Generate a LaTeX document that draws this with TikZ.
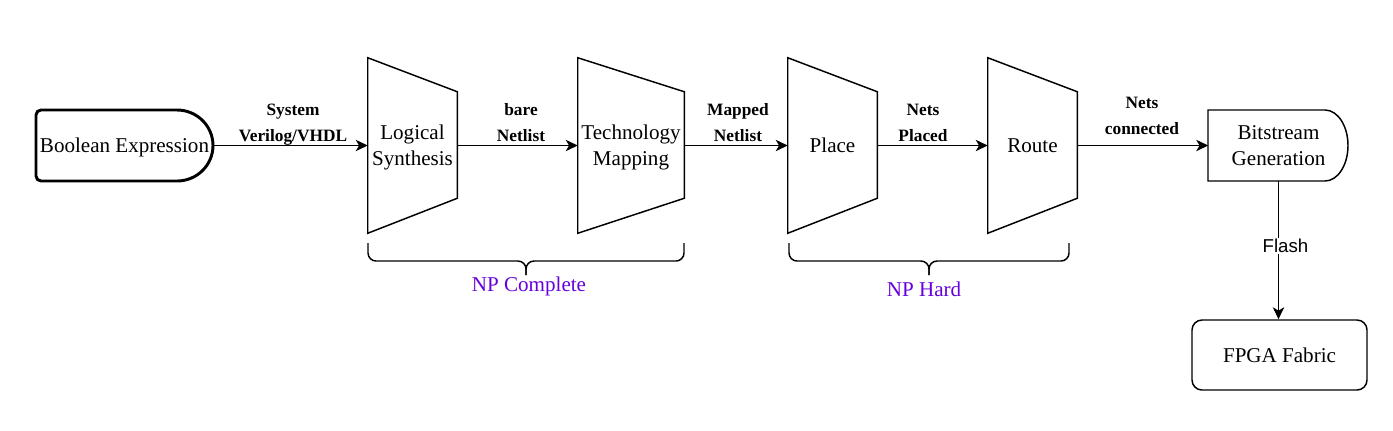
\documentclass[tikz,border=0pt]{standalone}
\usepackage{fontspec}
\setmainfont{Liberation Serif}
\setsansfont{Liberation Sans}
\usetikzlibrary{arrows.meta}
\definecolor{npviolet}{HTML}{6600DD}
\newdimen\pxu \pxu=0.75pt

\begin{document}
\begin{tikzpicture}[x=0.75pt,y=-0.75pt,
	txt/.style={font=\fontsize{15.8}{19.5}\selectfont, align=center, inner sep=0pt, text depth=0pt},
	lbl/.style={font=\fontsize{13}{19.5}\selectfont\bfseries, align=center, inner sep=0pt},
	flow/.style={line width=1.1pt, -{Stealth[length=9pt, width=8.5pt, inset=2.5pt]}},
	edge/.style={line width=1.1pt, line join=miter},
	npnote/.style={txt, text=npviolet}]
	\useasboundingbox (0,0) rectangle (1393,430);

	% Bloecke
	\node[txt, minimum width=177\pxu, minimum height=71\pxu] (boolexp) at (124.5,145.5) {Boolean Expression};
	\node[txt, minimum width=89\pxu, minimum height=175\pxu] (logsyn) at (412.5,145.5) {Logical\\Synthesis};
	\node[txt, minimum width=106\pxu, minimum height=175\pxu] (techmap) at (631,145.5) {Technology\\Mapping};
	\node[txt, minimum width=89\pxu, minimum height=175\pxu] (place) at (832.5,145.5) {Place};
	\node[txt, minimum width=89\pxu, minimum height=175\pxu] (route) at (1032.5,145.5) {Route};
	\node[txt, minimum width=140\pxu, minimum height=71\pxu] (bitgen) at (1278.5,145.5) {Bitstream\\Generation};
	\node[txt, draw, line width=1.1pt, rounded corners=10\pxu, minimum width=175\pxu, minimum height=70\pxu] (fabric) at (1279.5,355) {FPGA Fabric};

	% Umrisse
	\draw[line width=2.2pt] (177,110) [rounded corners=5\pxu]-- (36,110) -- (36,181) [sharp corners]-- (177,181)
		arc[start angle=90, end angle=-90, x radius=36, y radius=35.5];
	\foreach \blk in {logsyn, techmap, place, route}
		\draw[edge] (\blk.north west) -- ([yshift=-34\pxu]\blk.north east) -- ([yshift=35\pxu]\blk.south east) -- (\blk.south west) -- cycle;
	\draw[edge] (1208,110) -- (1325,110) arc[start angle=-90, end angle=90, x radius=23, y radius=35.5] -- (1208,181) -- cycle;

	% Verbindungen
	\draw[flow] (boolexp.east) -- (logsyn.west);
	\draw[flow] (logsyn.east) -- (techmap.west);
	\draw[flow] (techmap.east) -- (place.west);
	\draw[flow] (place.east) -- (route.west);
	\draw[flow] (route.east) -- (bitgen.west);
	\draw[flow] (bitgen.south) -- node[pos=0.47, xshift=7\pxu, fill=white, inner sep=1pt, font=\sffamily\fontsize{14}{16}\selectfont] (flash) {Flash} (bitgen.south |- fabric.north);

	% Beschriftungen
	\node[lbl] (hdl) at (293,124.5) {System\\Verilog/VHDL};
	\node[lbl] (barenet) at (521,123) {bare\\Netlist};
	\node[lbl] (mapnet) at (738,123) {Mapped\\Netlist};
	\node[lbl] (netpl) at (923,123) {Nets\\Placed};
	\node[lbl] (netcon) at (1142,116) {Nets\\connected};

	% Klammern
	\draw[line width=1.1pt, rounded corners=8\pxu] (368,243) |- (526,261) -- (526,275);
	\draw[line width=1.1pt, rounded corners=8\pxu] (684,243) |- (526,261) -- (526,275);
	\node[npnote] (npc) at (529,284) {NP Complete};
	\draw[line width=1.1pt, rounded corners=8\pxu] (789,243) |- (929,261) -- (929,275);
	\draw[line width=1.1pt, rounded corners=8\pxu] (1069,243) |- (929,261) -- (929,275);
	\node[npnote] (nph) at (924,289) {NP Hard};
\end{tikzpicture}
\end{document}
